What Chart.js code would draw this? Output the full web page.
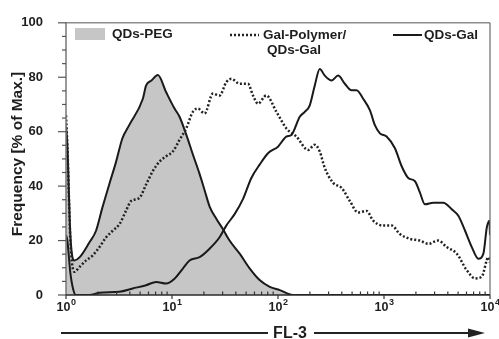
<!DOCTYPE html>
<html><head><meta charset="utf-8">
<script src="https://cdn.jsdelivr.net/npm/chart.js@4.4.1/dist/chart.umd.min.js"></script>
<style>html,body{margin:0;padding:0;background:#fff}canvas{display:block}</style>
</head><body>
<canvas id="c" width="499" height="339"></canvas>
<script>
// ---- data (FL-3 channel value, % of max) ----
const seriesLabels = ['QDs-PEG', 'Gal-Polymer/QDs-Gal', 'QDs-Gal'];
const xTickValues = [1, 10, 100, 1000, 10000];
const xTickExponents = ['0', '1', '2', '3', '4'];
const yTickStep = 20;
const xAxisTitle = 'FL-3';
const yAxisTitle = 'Frequency [% of Max.]';

const pegX = [1, 1.03, 1.1, 1.2, 1.34, 1.66, 1.92, 2.2, 2.56, 2.97, 3.4, 3.96, 5.3, 5.7, 6.4, 7.35, 8.81, 10.57, 11.78, 13.61, 15.74, 18.2, 20.3, 22.65, 26.18, 30, 34.9, 43.5, 54, 67.1, 83.6, 104, 138, 10000];
const pegY = [62, 55, 22, 12.7, 13.8, 19.3, 23.6, 32, 40.7, 49, 57.5, 62.5, 72, 77, 78.8, 80.8, 74.5, 68.5, 65.5, 59, 51.6, 44.5, 38.5, 32.5, 28, 24.4, 20, 15.2, 9.8, 5.5, 3, 1.8, 0, 0];

const galPolyX = [1, 1.03, 1.1, 1.2, 1.34, 1.55, 1.78, 2.07, 2.39, 2.76, 3.19, 3.69, 4.11, 4.93, 5.7, 6.59, 7.62, 8.81, 10.18, 11.78, 13.61, 15.74, 17.54, 20.28, 24.32, 28.12, 32.51, 36.31, 43.45, 52, 58.1, 64.7, 77.6, 96.6, 120, 149.3, 192.3, 222.3, 247.7, 276.1, 331.1, 397.2, 476.4, 570.2, 685.5, 790.7, 981.7, 1180, 1413, 1758, 2183, 2618, 3251, 3908, 4853, 6039, 7228, 8356, 9661, 10000];
const galPolyY = [66, 55, 20, 8.5, 10.3, 12.7, 14.5, 17.6, 21.2, 23.6, 26, 31, 34.5, 35.7, 40.6, 45.5, 49, 51, 52.7, 57, 61.2, 67.3, 68.5, 66.7, 74, 73.3, 78.2, 79.4, 77.6, 77.6, 73.3, 70.3, 73.3, 67.3, 61.2, 58.2, 53.3, 55.2, 52.7, 46.7, 41.2, 39.4, 34.5, 30.3, 30.9, 27.3, 25.5, 25.5, 22.4, 20.6, 20, 18.8, 20, 17.6, 15.2, 9.1, 6.1, 6.7, 13.9, 12];

const qdsGalX = [1, 1.03, 1.1, 1.17, 1.24, 1.66, 2.07, 3.19, 4.26, 5.7, 7.09, 8.81, 10.56, 12.65, 14.64, 18.2, 22.62, 28.12, 32.51, 38.97, 46.69, 56.06, 67.14, 80.47, 100, 120, 133.9, 160.4, 178.8, 199.4, 222.3, 247.7, 276.1, 319.7, 369.1, 427.1, 494.1, 550.8, 636, 735.8, 820.4, 914.5, 1058, 1268, 1467, 1693, 1959, 2183, 2436, 2917, 3627, 4354, 5027, 5817, 6730, 7771, 8663, 9329, 9870, 10000];
const qdsGalY = [22, 20, 8, 2, 0, 0, 0.8, 1.2, 2.4, 3.6, 4.8, 4.2, 6, 9.7, 12.7, 13.9, 17, 21.2, 25.5, 29.7, 35.2, 43, 47.9, 52.1, 54.5, 58.2, 58.8, 65.5, 67.3, 69.7, 77, 83, 80.6, 78.8, 80.6, 77.6, 75.2, 75.2, 72.1, 67.9, 62.4, 59.4, 58.2, 53.9, 47.3, 43, 41.8, 37.6, 33.3, 33.9, 33.9, 31.5, 29.1, 23.6, 17.6, 13.3, 15.2, 24.8, 27.3, 22];

const pts = (xs, ys) => xs.map((v, i) => ({x: v, y: ys[i]}));

const FONT = "'Liberation Sans', Arial, Helvetica, sans-serif";
const INK = '#1e1e1e';
const PEG_FILL = '#c6c6c6';

const decor = {
  id: 'decor',
  afterDraw(chart) {
    const {ctx, chartArea: a, scales: {x, y}} = chart;
    const ds = chart.data.datasets;
    const line = (x1, y1, x2, y2) => { ctx.beginPath(); ctx.moveTo(x1, y1); ctx.lineTo(x2, y2); ctx.stroke(); };
    ctx.save();
    ctx.lineCap = 'butt';
    // frame
    ctx.strokeStyle = '#8c8c8c'; ctx.lineWidth = 1.5;
    line(a.left, a.top, a.right, a.top);
    ctx.strokeStyle = '#6a6a6a'; ctx.lineWidth = 1.2;
    line(a.right, a.top, a.right, a.bottom);
    ctx.strokeStyle = '#777'; ctx.lineWidth = 1.5;
    line(a.left, a.top - 0.75, a.left, a.bottom);
    ctx.strokeStyle = '#2a2a2a'; ctx.lineWidth = 1.5;
    line(a.left, a.bottom, a.right, a.bottom);

    // y ticks (major every 20, minor every 5)
    ctx.strokeStyle = '#555'; ctx.lineWidth = 1.2;
    for (let v = 0; v <= 100; v += 5) {
      const py = y.getPixelForValue(v);
      const len = v % yTickStep === 0 ? 8 : 4;
      line(a.left - len, py, a.left, py);
    }
    // x ticks: minor inside, major outside
    ctx.strokeStyle = '#333';
    for (let d = 0; d < xTickValues.length - 1; d++) {
      for (let m = 2; m <= 9; m++) {
        const px = x.getPixelForValue(m * xTickValues[d]);
        line(px, a.bottom, px, a.bottom - 3.5);
      }
    }
    xTickValues.forEach((v, i) => {
      const px = x.getPixelForValue(v);
      line(px, a.bottom, px, a.bottom + 4);
      // label 10^n
      ctx.fillStyle = INK;
      ctx.textBaseline = 'alphabetic';
      ctx.textAlign = 'left';
      ctx.font = 'bold 12.5px ' + FONT;
      const w1 = ctx.measureText('10').width;
      ctx.font = 'bold 9px ' + FONT;
      const w2 = ctx.measureText(xTickExponents[i]).width;
      const sx = px - (w1 + w2) / 2;
      ctx.font = 'bold 12.5px ' + FONT;
      ctx.fillText('10', sx, 311);
      ctx.font = 'bold 9px ' + FONT;
      ctx.fillText(xTickExponents[i], sx + w1 + 0.5, 305);
    });

    // x axis arrow + title
    ctx.strokeStyle = '#222'; ctx.lineWidth = 2;
    const ay = 333;
    line(61, ay, 268, ay);
    line(314, ay, 472, ay);
    ctx.fillStyle = '#222';
    ctx.beginPath(); ctx.moveTo(468, ay - 4.5); ctx.lineTo(485, ay); ctx.lineTo(468, ay + 4.5); ctx.closePath(); ctx.fill();
    ctx.fillStyle = INK;
    ctx.font = 'bold 16px ' + FONT;
    ctx.textAlign = 'center'; ctx.textBaseline = 'middle';
    ctx.fillText(xAxisTitle, 290, ay + 1);

    // y axis title
    ctx.save();
    ctx.translate(18, 154);
    ctx.rotate(-Math.PI / 2);
    ctx.font = 'bold 15.5px ' + FONT;
    ctx.fillText(yAxisTitle, 0, 0);
    ctx.restore();

    // legend
    ctx.font = 'bold 13.5px ' + FONT;
    ctx.textAlign = 'left'; ctx.textBaseline = 'middle';
    ctx.fillStyle = ds[0].backgroundColor;
    ctx.fillRect(75, 28, 30, 12);
    ctx.fillStyle = INK;
    ctx.fillText(ds[0].label, 112, 34);

    ctx.strokeStyle = ds[1].borderColor; ctx.lineWidth = ds[1].borderWidth;
    ctx.setLineDash(ds[1].borderDash);
    line(230, 35, 259, 35);
    ctx.setLineDash([]);
    const parts = ds[1].label.split('/');
    ctx.fillText(parts[0] + '/', 263, 35);
    ctx.fillText(parts[1], 267, 50);

    ctx.strokeStyle = ds[2].borderColor; ctx.lineWidth = ds[2].borderWidth;
    line(393, 35, 422, 35);
    ctx.fillText(ds[2].label, 424, 35);
    ctx.restore();
  }
};

new Chart(document.getElementById('c'), {
  type: 'line',
  data: {
    datasets: [
      { label: seriesLabels[0], data: pts(pegX, pegY), borderColor: '#1a1a1a', borderWidth: 2,
        backgroundColor: PEG_FILL, fill: 'origin', pointRadius: 0, cubicInterpolationMode: 'monotone', order: 3 },
      { label: seriesLabels[1], data: pts(galPolyX, galPolyY), borderColor: '#222', borderWidth: 2.5,
        borderDash: [2, 2], borderCapStyle: 'butt', fill: false, pointRadius: 0, cubicInterpolationMode: 'monotone', order: 2 },
      { label: seriesLabels[2], data: pts(qdsGalX, qdsGalY), borderColor: '#1a1a1a', borderWidth: 2,
        fill: false, pointRadius: 0, cubicInterpolationMode: 'monotone', order: 1 }
    ]
  },
  options: {
    responsive: false,
    animation: false,
    devicePixelRatio: 1,
    layout: { padding: { top: 20, right: 9, left: 0, bottom: 0 } },
    plugins: { legend: { display: false }, tooltip: { enabled: false } },
    scales: {
      x: { type: 'logarithmic', min: 1, max: 10000,
        ticks: { display: false }, grid: { display: false }, border: { display: false },
        afterFit: s => { s.height = 44; } },
      y: { type: 'linear', min: 0, max: 100,
        ticks: { stepSize: yTickStep, padding: 15, color: INK, font: { family: FONT, weight: 'bold', size: 13 } },
        grid: { display: false }, border: { display: false },
        afterFit: s => { s.width = 66; } }
    }
  },
  plugins: [decor]
});
</script>
</body></html>
